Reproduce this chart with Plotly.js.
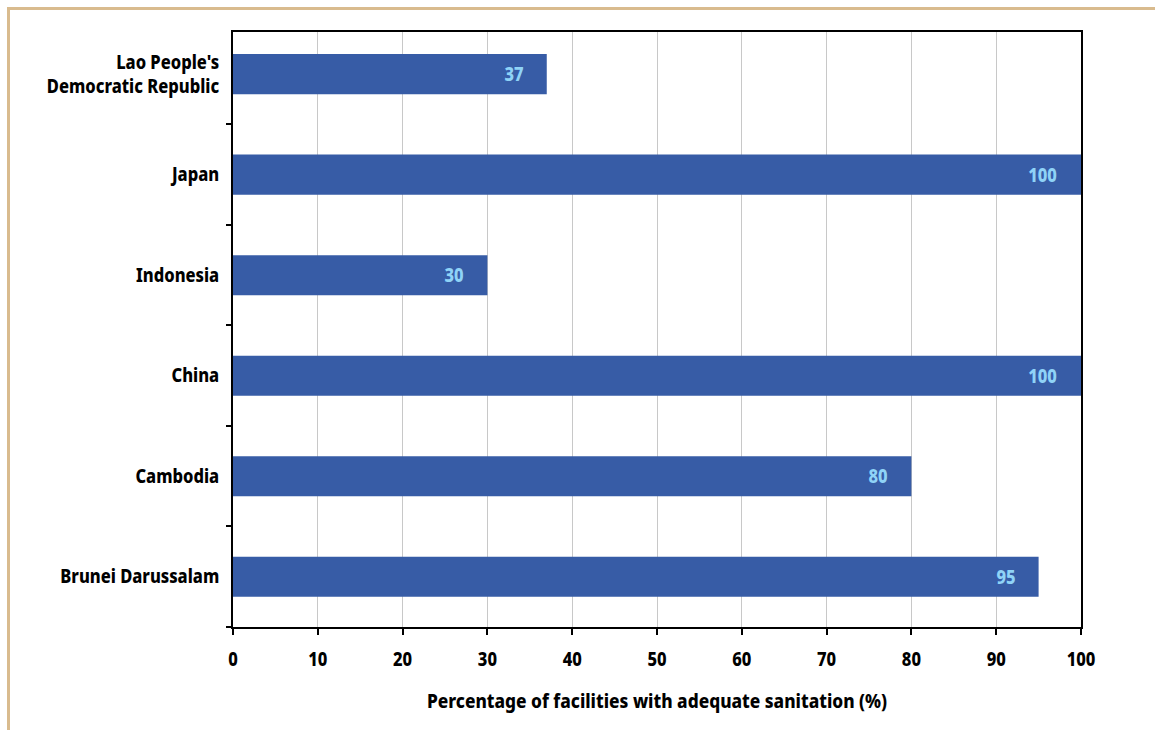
<!DOCTYPE html>
<html>
<head>
<meta charset="utf-8">
<script src="https://cdn.plot.ly/plotly-3.0.1.min.js"></script>
<style>
  html, body { margin: 0; padding: 0; background: #fff; }
  #frame { position: absolute; left: 7px; top: 7px; width: 1148px; height: 723px;
           border-top: 3px solid #d9bb8e; border-left: 3px solid #d9bb8e; box-sizing: border-box; }
  #chart { position: absolute; left: 0; top: 0; width: 1155px; height: 730px; }
</style>
</head>
<body>
<div id="frame"></div>
<div id="chart"></div>
<script>
const countries = ["Brunei Darussalam", "Cambodia", "China", "Indonesia", "Japan", "Lao People's<br>Democratic Republic"];
const values = [95, 80, 100, 30, 100, 37];
const xTicks = [0, 10, 20, 30, 40, 50, 60, 70, 80, 90, 100];
const xTitle = "Percentage of facilities with adequate sanitation (%)";

const fontFam = "'Noto Sans', sans-serif";
const W = 800;

const trace = {
  type: 'bar',
  orientation: 'h',
  x: values,
  y: countries,
  width: 0.4,
  marker: { color: '#375ca6' },
  hoverinfo: 'none'
};

const annotations = values.map((v, i) => ({
  x: v, y: countries[i], xref: 'x', yref: 'y',
  text: String(v), showarrow: false, xanchor: 'right', yanchor: 'middle',
  xshift: -20,
  font: { family: fontFam, size: 19, color: '#8fd3f7', weight: W }
}));

const layout = {
  width: 1155, height: 730,
  margin: { l: 233, r: 74, t: 32, b: 103 },
  paper_bgcolor: 'rgba(0,0,0,0)',
  plot_bgcolor: 'rgba(0,0,0,0)',
  showlegend: false,
  font: { family: fontFam, size: 19, color: '#000', weight: W },
  xaxis: {
    range: [0, 100],
    tickvals: xTicks,
    ticktext: xTicks.map(String),
    ticks: 'outside', ticklen: 6, tickwidth: 2, tickcolor: '#000',
    showline: true, linecolor: '#000', linewidth: 2, mirror: true,
    showgrid: true, gridcolor: '#c8c8c8', gridwidth: 1,
    zeroline: false,
    ticklabelstandoff: 8,
    tickfont: { family: fontFam, size: 19, color: '#000', weight: W },
    title: { text: xTitle, standoff: 24, font: { family: fontFam, size: 19, color: '#000', weight: W } },
    fixedrange: true
  },
  yaxis: {
    type: 'category',
    range: [-0.5, 5.42],
    tickson: 'boundaries',
    ticks: 'outside', ticklen: 5, tickwidth: 2, tickcolor: '#000',
    showline: true, linecolor: '#000', linewidth: 2, mirror: true,
    showgrid: false, zeroline: false,
    ticklabelstandoff: 8,
    tickfont: { family: fontFam, size: 19, color: '#000', weight: W },
    fixedrange: true
  },
  annotations: annotations,
  bargap: 0.6
};

// Narrow the glyphs to approximate the condensed typeface of the original
function condense() {
  document.querySelectorAll('#chart svg text').forEach(t => {
    const factor = t.classList.contains('xtitle') ? 0.91 : 0.87;
    const lines = t.querySelectorAll('tspan.line');
    const targets = lines.length ? Array.from(lines) : [t];
    targets.forEach(el => {
      const w = el.getComputedTextLength();
      if (w > 0) {
        el.setAttribute('textLength', (w * factor).toFixed(2));
        el.setAttribute('lengthAdjust', 'spacingAndGlyphs');
      }
    });
  });
}

Plotly.newPlot('chart', [trace], layout, { displayModeBar: false, staticPlot: true })
  .then(() => condense());
</script>
</body>
</html>
